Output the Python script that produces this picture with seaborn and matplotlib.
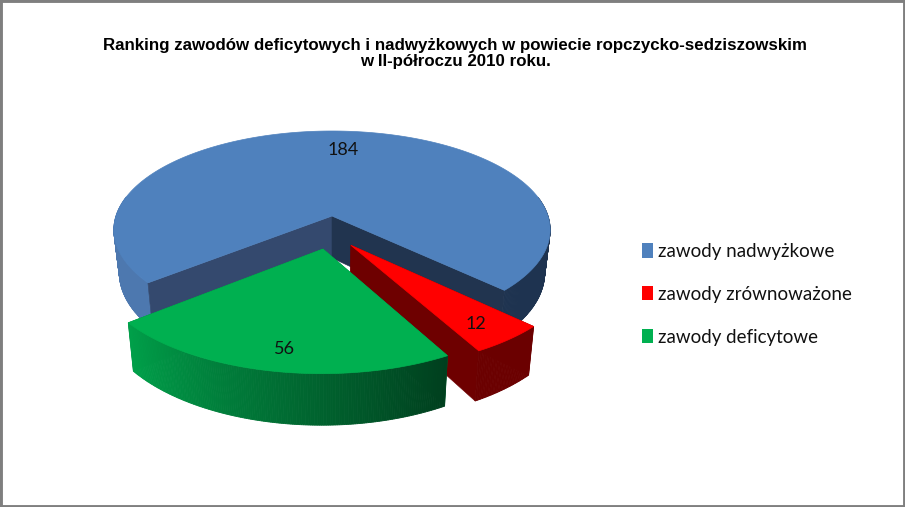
"""
3D exploded pie: ranking of occupations, II half of 2010.
"""
import numpy as np
import matplotlib
matplotlib.use('Agg')
import matplotlib.pyplot as plt
import seaborn as sns
from matplotlib.patches import Patch, Rectangle

categories = ['zawody nadwyżkowe', 'zawody zrównoważone', 'zawody deficytowe']
values = [184, 12, 56]
title_text = ('Ranking zawodów deficytowych i nadwyżkowych w powiecie ropczycko-sedziszowskim\n'
              'w II-półroczu 2010 roku.')

top_colors = ['#4F81BD', '#FF0000', '#00B050']
side_stops = [['#4D78AF', '#4D78AF', '#1E3350', '#1E3350'],
              ['#6B0000', '#6B0000'],
              ['#003F1E', '#00A04A']]
cut_colors = [('#34496E', '#21344F'), ('#6E0000', '#6E0000'), ('#00803C', '#00803C')]
explode = [(0.0, 0.0), (0.084, 0.29), (-0.04, 0.325)]
label_frac = [0.8, 0.85, 0.84]
label_nudge = [(5, -4), (-6, 0), (4, 0)]

CX, CY = 332, 216
RX, RY = 216, 96.9
PERSP = 0.14
DEPTH = 42
START = 51.0

sns.set_theme(style='white')
plt.rcParams['font.family'] = ['Lato', 'DejaVu Sans']


def project(x, y, bottom=False):
    """World disc coordinates to picture pixels, front of the disc is larger."""
    s = 1 / (1 - PERSP * np.asarray(y))
    if bottom:
        return CX + RX * np.asarray(x) * s * 0.975, CY + (RY * np.asarray(y) + DEPTH) * s
    return CX + RX * np.asarray(x) * s, CY + RY * np.asarray(y) * s


def draw_wedge(ax, t0, t1, offset, top, stops, cuts):
    ox, oy = offset
    thetas = np.radians(np.linspace(t0, t1, max(int(t1 - t0), 4) * 2 + 1))
    xs = ox - np.sin(thetas)
    ys = oy + np.cos(thetas)
    tx, ty = project(xs, ys)
    bx, by = project(xs, ys, bottom=True)
    ax_t, ay_t = project(ox, oy)
    ax_b, ay_b = project(ox, oy, bottom=True)

    def draw_cuts():
        for idx, cut in zip((0, -1), cuts):
            ax.fill([ax_t, tx[idx], bx[idx], ax_b], [ay_t, ty[idx], by[idx], ay_b],
                    color=cut, linewidth=0.4, zorder=2)

    # a slice narrower than a half shows its cuts behind the wall, the big one in front
    if t1 - t0 < 180:
        draw_cuts()

    # outer wall, shaded in narrow strips, the back part stays hidden
    shades = sns.blend_palette(stops, len(thetas) - 1)
    for i, shade in enumerate(shades):
        if ys[i] < -0.2 - oy:
            continue
        ax.fill([tx[i], tx[i + 1], bx[i + 1], bx[i]],
                [ty[i], ty[i + 1], by[i + 1], by[i]],
                color=shade, linewidth=0.6, zorder=2)

    if t1 - t0 >= 180:
        draw_cuts()

    ax.fill(np.r_[ax_t, tx], np.r_[ay_t, ty], color=top, linewidth=0.5, zorder=2)


fig = plt.figure(figsize=(9.05, 5.07), dpi=100)
ax = fig.add_axes([0, 0, 1, 1])
ax.set_xlim(0, 905)
ax.set_ylim(507, 0)
ax.axis('off')

spans = np.array(values) / sum(values) * 360
edges = START + np.r_[0, np.cumsum(spans)]

for i in range(len(values)):
    draw_wedge(ax, edges[i], edges[i + 1], explode[i], top_colors[i],
               side_stops[i], cut_colors[i])
    mid = np.radians((edges[i] + edges[i + 1]) / 2)
    lx, ly = project(explode[i][0] - label_frac[i] * np.sin(mid),
                     explode[i][1] + label_frac[i] * np.cos(mid))
    ax.annotate(str(values[i]), (lx, ly), xytext=label_nudge[i], textcoords='offset pixels',
                ha='center', va='center', fontsize=13, color='#111111', zorder=3)

ax.text(455, 53.5, title_text, ha='center', va='center', fontsize=12.2, fontweight='bold',
        family='Liberation Sans', color='black', linespacing=1.05, zorder=3)

handles = [Patch(facecolor=c, edgecolor='none') for c in top_colors]
ax.legend(handles, categories, loc='upper left', bbox_to_anchor=(625 / 905, 1 - 226 / 507),
          frameon=False, fontsize=13.5, handlelength=0.59, handleheight=0.8, handletextpad=0.27,
          labelspacing=1.38, borderpad=0.4, labelcolor='#111111')

fig.add_artist(Rectangle((0, 0), 1, 1, transform=fig.transFigure, fill=False,
                         edgecolor='#7F7F7F', linewidth=3.5))

fig.savefig('out.png', dpi=100, facecolor='white')
